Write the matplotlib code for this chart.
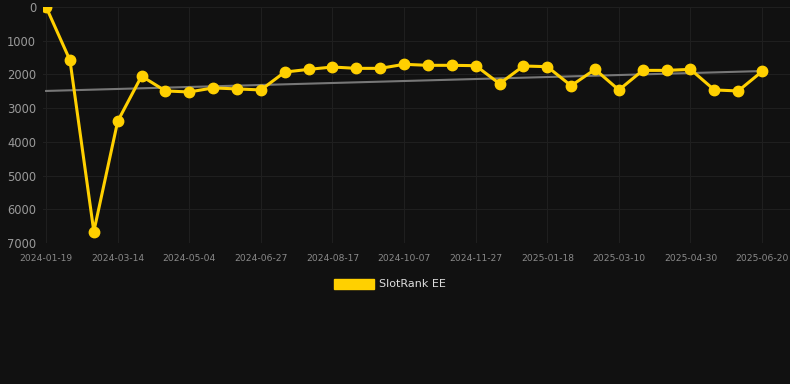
import matplotlib
matplotlib.use("Agg")
import matplotlib.pyplot as plt
from matplotlib.patches import Patch

values = [0, 1580, 6660, 3390, 2050, 2490, 2520, 2400, 2430, 2460,
          1930, 1850, 1780, 1820, 1820, 1700, 1730, 1730, 1740, 2275,
          1750, 1770, 2335, 1850, 2460, 1880, 1880, 1850, 2460, 2490, 1910]
tick_labels = ["2024-01-19", "2024-03-14", "2024-05-04", "2024-06-27", "2024-08-17",
               "2024-10-07", "2024-11-27", "2025-01-18", "2025-03-10", "2025-04-30",
               "2025-06-20"]
tick_step = 3
trend_ends = [2490, 1900]
series_name = "SlotRank EE"
y_ticks = [0, 1000, 2000, 3000, 4000, 5000, 6000, 7000]

bg = "#111111"
yellow = "#FFD000"

fig = plt.figure(figsize=(7.9, 3.84), dpi=100, facecolor=bg)
W, H = 790, 384
left, right, top, bottom = 43, 790, 7, 243
ax = fig.add_axes([left / W, 1 - bottom / H, (right - left) / W, (bottom - top) / H])
ax.set_facecolor(bg)

x = list(range(len(values)))
n = len(values) - 1
ax.plot([0, n], trend_ends, color="#777777", lw=1.5, zorder=2)
ax.plot(x, values, color=yellow, lw=2.2, marker="o", markersize=7.5, zorder=3,
        solid_joinstyle="miter")

ax.set_ylim(7000, 0)
ax.set_xlim(-0.13, 31.17)
ax.set_yticks(y_ticks)
ax.set_yticklabels([str(v) for v in y_ticks])
ticks = list(range(0, len(values), tick_step))
ax.set_xticks(ticks)
ax.set_xticklabels(tick_labels)

ax.grid(True, color="#1f1f1f", lw=0.8)
ax.set_axisbelow(True)
for s in ax.spines.values():
    s.set_visible(False)
ax.tick_params(axis="y", length=0, pad=5, labelsize=8.3, labelcolor="#9a9a9a")
ax.tick_params(axis="x", length=0, pad=8, labelsize=6.6, labelcolor="#8a8a8a")

handle = Patch(facecolor=yellow, edgecolor=yellow)
leg = fig.legend([handle], [series_name], loc="center", bbox_to_anchor=(390 / W, 1 - 284 / H),
                 frameon=False, fontsize=8, handlelength=3.6, handleheight=1.0,
                 handletextpad=0.5, labelcolor="#dddddd")

fig.savefig("out.png", dpi=100, facecolor=bg)
